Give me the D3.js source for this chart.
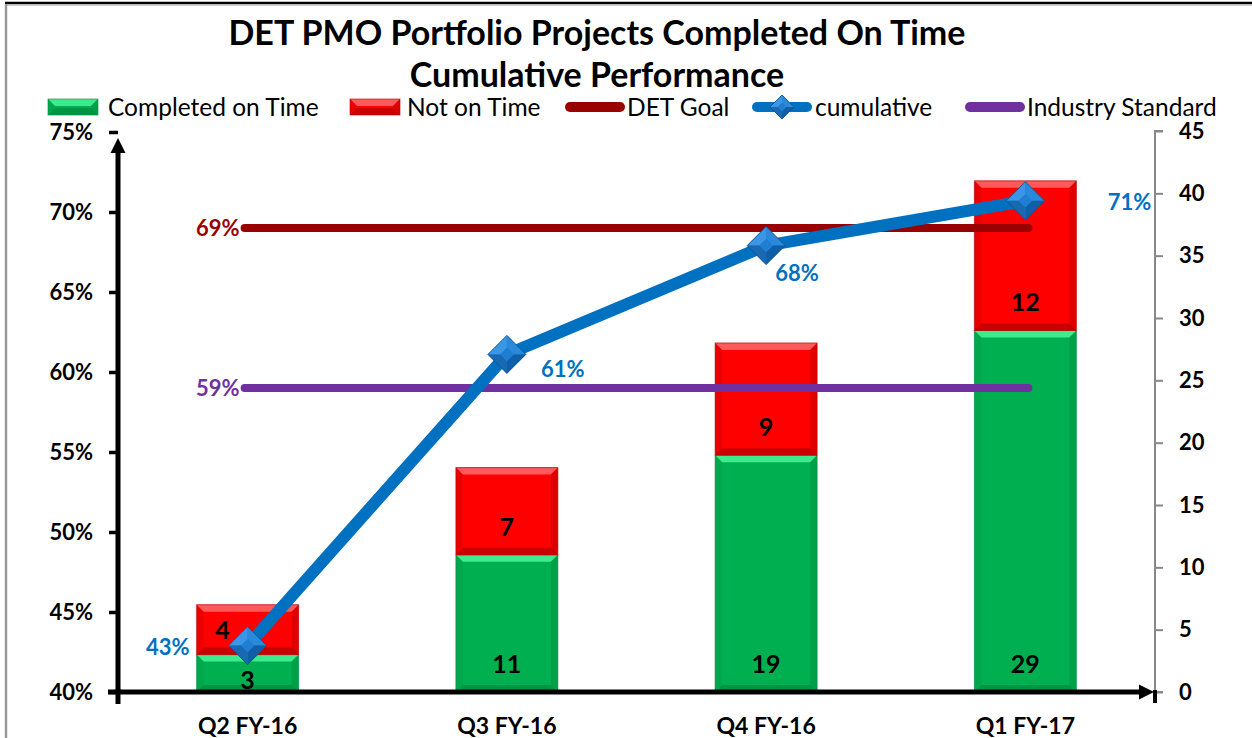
<!DOCTYPE html>
<html><head><meta charset="utf-8">
<script src="https://cdn.jsdelivr.net/npm/d3@7/dist/d3.min.js"></script>
<style>
html,body{margin:0;padding:0;background:#fff;}
svg{display:block;font-family:Lato,"Open Sans",sans-serif;}
</style></head>
<body>
<svg id="chart" width="1252" height="738"></svg>
<script>
// ---- data ----
const categories = ["Q2 FY-16", "Q3 FY-16", "Q4 FY-16", "Q1 FY-17"];
const completedOnTime = [3, 11, 19, 29];
const notOnTime = [4, 7, 9, 12];
const cumulative = [42.9, 61.1, 67.9, 70.7];
const cumulativeLabels = ["43%", "61%", "68%", "71%"];
const detGoal = 69;
const industryStandard = 59;
const leftTicks = [40, 45, 50, 55, 60, 65, 70, 75];
const rightTicks = [0, 5, 10, 15, 20, 25, 30, 35, 40, 45];
const titleLines = ["DET PMO Portfolio Projects Completed On Time", "Cumulative Performance"];
const legendLabels = ["Completed on Time", "Not on Time", "DET Goal", "cumulative", "Industry Standard"];

// ---- styles ----
const C = {green:"#00B050", greenLight:"#3EEB8C", greenDark:"#008A3E",
           red:"#FF0000", redLight:"#FF5A5A", redDark:"#B00000",
           goal:"#990000", blue:"#0070C0", purple:"#7030A0"};

const svg = d3.select("#chart");
svg.append("rect").attr("width",1252).attr("height",738).attr("fill","#fff");

// frame
svg.append("line").attr("x1",5).attr("x2",1252).attr("y1",3).attr("y2",3).attr("stroke","#000").attr("stroke-width",2.5);
svg.append("line").attr("x1",7).attr("x2",1252).attr("y1",5.5).attr("y2",5.5).attr("stroke","#ccc").attr("stroke-width",1);
svg.append("line").attr("x1",6).attr("x2",6).attr("y1",4).attr("y2",738).attr("stroke","#9a9a9a").attr("stroke-width",2.5);

const defs = svg.append("defs");

// scales
const x = d3.scaleBand().domain(categories).range([118,1155]).paddingInner(0.6066).paddingOuter(0.3033);
const yL = d3.scaleLinear().domain([40,75]).range([692,132]);
const yR = d3.scaleLinear().domain([0,45]).range([692,131]);

// title
svg.selectAll("text.title").data(titleLines).join("text")
  .attr("class","title")
  .attr("x",597).attr("y",(d,i)=>45+i*42)
  .attr("text-anchor","middle")
  .attr("font-weight","bold").attr("font-size",34)
  .attr("fill","#000")
  .text(d=>d);

// right axis
const gR = svg.append("g").attr("transform","translate(1155,0)")
  .call(d3.axisRight(yR).tickValues(rightTicks).tickSize(8).tickPadding(16));
gR.select(".domain").attr("stroke","#888").attr("stroke-width",2).attr("d","M8,131H0V692H8");
gR.selectAll(".tick line").attr("stroke","#888").attr("stroke-width",2);
gR.selectAll(".tick text").attr("font-weight","bold").attr("font-size",22).attr("fill","#000").attr("font-family","Lato");

// left axis
const gL = svg.append("g").attr("transform","translate(118,0)")
  .call(d3.axisLeft(yL).tickValues(leftTicks).tickSize(9).tickPadding(16).tickFormat(d=>d+"%"));
gL.select(".domain").remove();
gL.selectAll(".tick line").attr("stroke","#000").attr("stroke-width",3.5);
gL.selectAll(".tick text").attr("font-weight","bold").attr("font-size",22).attr("fill","#000").attr("font-family","Lato");

// bars with bevel
function bevelBar(g, x0, y0, w, h, fill, light, dark){
  const b = Math.min(7, h/2);
  g.append("rect").attr("x",x0).attr("y",y0).attr("width",w).attr("height",h).attr("fill",fill);
  g.append("polygon").attr("points",[[x0,y0],[x0+w,y0],[x0+w-b,y0+b],[x0+b,y0+b]].join(" ")).attr("fill",light);
  g.append("polygon").attr("points",[[x0,y0+h],[x0+w,y0+h],[x0+w-b,y0+h-b],[x0+b,y0+h-b]].join(" ")).attr("fill",dark).attr("opacity",0.7);
  g.append("polygon").attr("points",[[x0,y0],[x0+b,y0+b],[x0+b,y0+h-b],[x0,y0+h]].join(" ")).attr("fill",dark).attr("opacity",0.25);
  g.append("polygon").attr("points",[[x0+w,y0],[x0+w-b,y0+b],[x0+w-b,y0+h-b],[x0+w,y0+h]].join(" ")).attr("fill",dark).attr("opacity",0.4);
  g.append("rect").attr("x",x0).attr("y",y0).attr("width",w).attr("height",h).attr("fill","none").attr("stroke",dark).attr("stroke-width",1).attr("opacity",0.6);
}
const barsG = svg.append("g");
const labelsG = svg.append("g");
categories.forEach((c,i)=>{
  const x0 = x(c), w = x.bandwidth();
  const g0 = 0, g1 = completedOnTime[i], r1 = g1 + notOnTime[i];
  bevelBar(barsG, x0, yR(g1), w, yR(g0)-yR(g1), C.green, C.greenLight, C.greenDark);
  bevelBar(barsG, x0, yR(r1), w, yR(g1)-yR(r1), C.red, C.redLight, C.redDark);
  const segs = [[g0,g1,completedOnTime[i],0],[g1,r1,notOnTime[i],1]];
  segs.forEach(([a,b,v,k])=>{
    const bottom = yR(a), center = (yR(a)+yR(b))/2;
    const small = (yR(a)-yR(b)) < 60;
    const yc = Math.max(center + (small && k===0 ? 7 : 0), bottom-28);
    const dx = (small && k===1) ? -25 : 0;
    labelsG.append("text").attr("x",x0+w/2+dx).attr("y",yc).attr("dy","0.36em")
      .attr("text-anchor","middle").attr("font-weight","bold").attr("font-size",25).attr("fill","#000").text(v);
  });
});

// x axis line with arrow
defs.append("marker").attr("id","arrR").attr("viewBox","0 0 10 10").attr("refX",2).attr("refY",5)
  .attr("markerWidth",3).attr("markerHeight",3.2).attr("orient","auto").attr("markerUnits","strokeWidth")
  .append("path").attr("d","M0,0L10,5L0,10Z").attr("fill","#000");
svg.append("line").attr("x1",108).attr("x2",1142).attr("y1",692).attr("y2",692).attr("stroke","#000").attr("stroke-width",5).attr("marker-end","url(#arrR)");
svg.append("line").attr("x1",118).attr("x2",118).attr("y1",689).attr("y2",704).attr("stroke","#000").attr("stroke-width",5);
svg.append("line").attr("x1",1155).attr("x2",1155).attr("y1",690).attr("y2",703).attr("stroke","#000").attr("stroke-width",4);
svg.append("line").attr("x1",118).attr("x2",118).attr("y1",694).attr("y2",150).attr("stroke","#000").attr("stroke-width",5).attr("marker-end","url(#arrR)");

// x labels
svg.selectAll("text.xl").data(categories).join("text").attr("class","xl")
  .attr("x",d=>x(d)+x.bandwidth()/2).attr("y",734)
  .attr("text-anchor","middle").attr("font-weight","bold").attr("font-size",23).text(d=>d);

// goal lines
const xMid = d => x(d)+x.bandwidth()/2;
const xFirst = xMid(categories[0]) - 3, xLast = xMid(categories[categories.length-1]) + 3;
[[detGoal,C.goal],[industryStandard,C.purple]].forEach(([v,col])=>{
  svg.append("line").attr("x1",xFirst).attr("x2",xLast).attr("y1",yL(v)).attr("y2",yL(v))
    .attr("stroke",col).attr("stroke-width",8).attr("stroke-linecap","round");
  svg.append("text").attr("x",xFirst-5).attr("y",yL(v)).attr("dy","0.36em").attr("text-anchor","end")
    .attr("font-weight","bold").attr("font-size",22).attr("fill",col).text(v+"%");
});

// cumulative line
const line = d3.line().x((d,i)=>xMid(categories[i])).y(d=>yL(d));
svg.append("path").attr("d",line(cumulative)).attr("fill","none").attr("stroke",C.blue)
  .attr("stroke-width",12).attr("stroke-linejoin","round");

function diamond(g, cx, cy, r){
  const T=[cx,cy-r], R=[cx+r,cy], B=[cx,cy+r], L=[cx-r,cy];
  const k = r*0.35;
  const inner = [[cx,cy-k],[cx+k,cy],[cx,cy+k],[cx-k,cy]];
  g.append("polygon").attr("points",[L,T,R,B].join(" ")).attr("fill","#1F7ED0");
  g.append("polygon").attr("points",[L,T,inner[0],inner[3]].join(" ")).attr("fill","#3B97E6");
  g.append("polygon").attr("points",[T,R,inner[1],inner[0]].join(" ")).attr("fill","#2A89DA");
  g.append("polygon").attr("points",[R,B,inner[2],inner[1]].join(" ")).attr("fill","#0E5FA8");
  g.append("polygon").attr("points",[B,L,inner[3],inner[2]].join(" ")).attr("fill","#1868B2");
  g.append("polygon").attr("points",inner.join(" ")).attr("fill","#1F7ED0");
  g.append("polygon").attr("points",[L,T,R,B].join(" ")).attr("fill","none").attr("stroke","#0A4F8F").attr("stroke-width",0.8);
}
const mk = svg.append("g");
const labelOffsets = [[-58,1,"end"],[34,15,"start"],[9,27,"start"],[126,1,"end"]];
cumulative.forEach((v,i)=>{
  const cx = xMid(categories[i]), cy = yL(v);
  diamond(mk, cx, cy, 19);
  svg.append("text").attr("x",cx+labelOffsets[i][0]).attr("y",cy+labelOffsets[i][1]).attr("dy","0.36em")
    .attr("text-anchor",labelOffsets[i][2])
    .attr("font-weight","bold").attr("font-size",22).attr("fill",C.blue).text(cumulativeLabels[i]);
});

// legend
const lg = svg.append("g");
const ly = 107;
const legendX = [[48,108],[350,407],[565,627],[752,815],[965,1027]];
function legendSwatch(i){
  const [sx] = legendX[i];
  if(i<2){
    const fill = i===0?C.green:C.red, light=i===0?C.greenLight:C.redLight, dark=i===0?C.greenDark:C.redDark;
    bevelBar(lg, sx, ly-8, 50, 16, fill, light, dark);
  } else {
    const col = i===2?C.goal:(i===3?C.blue:C.purple);
    lg.append("line").attr("x1",sx+5).attr("x2",sx+55).attr("y1",ly).attr("y2",ly)
      .attr("stroke",col).attr("stroke-width",10).attr("stroke-linecap","round");
    if(i===3) diamond(lg, sx+30, ly, 12);
  }
}
legendLabels.forEach((t,i)=>{
  legendSwatch(i);
  lg.append("text").attr("x",legendX[i][1]).attr("y",ly).attr("dy","0.36em")
    .attr("font-size",24.5).attr("fill","#000").text(t);
});
</script>
</body></html>
